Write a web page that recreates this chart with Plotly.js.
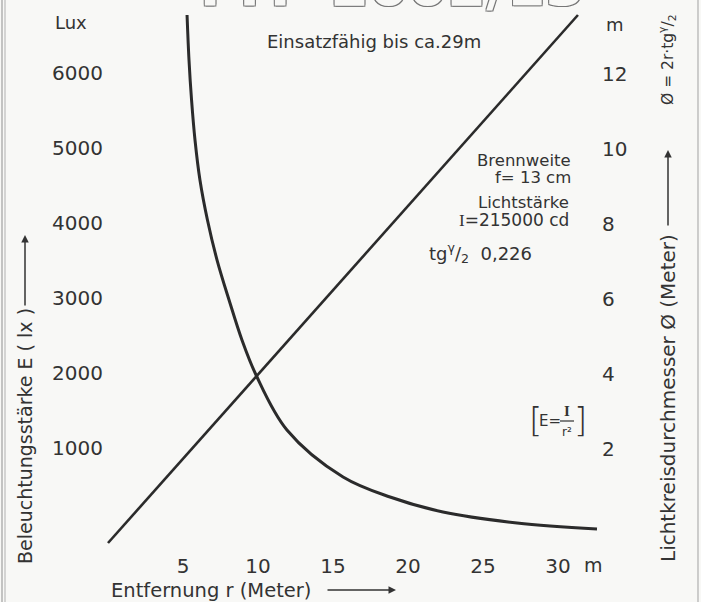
<!DOCTYPE html>
<html>
<head>
<meta charset="utf-8">
<script src="https://cdn.plot.ly/plotly-3.0.1.min.js"></script>
<style>html,body{margin:0;padding:0;background:#f8f8f6;}</style>
</head>
<body>
<div id="chart" style="width:701px;height:602px;"></div>
<script>
// ---- data ----
// Beleuchtungsstärke E (lx) versus Entfernung r (m)
const rCurve = [5.27, 5.4, 5.57, 5.8, 6.13, 6.63, 7.27, 8.07, 8.93, 9.87, 11.93, 15.67, 18.8, 22.33, 27.27, 32.6];
const eCurve = [7040, 6440, 5907, 5373, 4840, 4307, 3773, 3240, 2707, 2240, 1507, 880, 613, 413, 267, 187];
// Lichtkreisdurchmesser (m) versus Entfernung r (m)
const rLine = [0, 31.33];
const dLine = [0, 14.08];
// tick values / labels
const xTicks = [5, 10, 15, 20, 25, 30];
const xLabels = ["5", "10", "15", "20", "25", "30"];
const luxTicks = [1000, 2000, 3000, 4000, 5000, 6000];
const luxLabels = ["1000", "2000", "3000", "4000", "5000", "6000"];
const mTicks = [2, 4, 6, 8, 10, 12];
const mLabels = ["2", "4", "6", "8", "10", "12"];

// ---- layout helpers ----
const W = 701, H = 602, L = 104, R = 100, T = 10, B = 50;
const PW = W - L - R, PH = H - T - B;
const px = p => (p - L) / PW;
const py = p => (H - B - p) / PH;
const FONT = "DejaVu Sans";
const INK = "#333333";

const traces = [
  {x: rCurve, y: eCurve, type: "scatter", mode: "lines", line: {color: "#2b2b2b", width: 3, shape: "spline", smoothing: 1}, hoverinfo: "skip"},
  {x: rLine, y: dLine, type: "scatter", mode: "lines", yaxis: "y2", line: {color: "#2b2b2b", width: 2.6}, hoverinfo: "skip"}
];

function f(size, extra) { return Object.assign({family: FONT, size: size, color: INK}, extra || {}); }
function txt(text, x, y, opts) {
  return Object.assign({text: text, x: px(x), y: py(y), xref: "paper", yref: "paper",
    showarrow: false, font: f(17), xanchor: "center", yanchor: "middle"}, opts || {});
}
function arrow(xHead, yHead, xTail, yTail) {
  return {text: "", x: px(xHead), y: py(yHead), xref: "paper", yref: "paper", showarrow: true,
    ax: xTail - xHead, ay: yTail - yHead, axref: "pixel", ayref: "pixel",
    arrowhead: 2, arrowsize: 1, arrowwidth: 1.5, arrowcolor: INK, standoff: 0, startstandoff: 0};
}

const annotations = [
  txt("TYP 2002/13", 388, -14, {font: f(56, {color: "#f8f8f6", weight: 700,
    shadow: "-1px -1px 0 #777, 1px -1px 0 #777, -1px 1px 0 #777, 1px 1px 0 #777"})}),
  txt("Lux", 71, 22, {font: f(18)}),
  txt("m", 615, 25, {font: f(18)}),
  txt("m", 593, 565, {font: f(19)}),
  txt("Einsatzfähig bis ca.29m", 374, 42, {font: f(18)}),
  txt("Brennweite", 573, 160, {xanchor: "right", font: f(16.5)}),
  txt("f= 13 cm", 573, 177, {xanchor: "right", font: f(16.5)}),
  txt("Lichtstärke", 571, 203, {xanchor: "right", font: f(16.5)}),
  txt("<span style='font-family:Liberation Serif'>I</span>=215000 cd", 571, 220, {xanchor: "right", font: f(17)}),
  txt("tg<sup>γ</sup>/<sub>2</sub>  0,226", 427, 253, {xanchor: "left", font: f(18)}),
  // formula box
  txt("[", 535, 420, {font: f(34, {weight: 300})}),
  txt("]", 580, 420, {font: f(34, {weight: 300})}),
  txt("E=", 550, 421, {font: f(15)}),
  txt("<b>I</b>", 567, 411, {font: {family: "Liberation Serif", size: 15, color: INK}}),
  txt("r²", 567, 432, {font: f(12)}),
  // axis titles
  txt("Entfernung r (Meter)", 109, 590, {xanchor: "left", font: f(19.5)}),
  arrow(396, 590, 326, 590),
  txt("Beleuchtungsstärke E ( lx )", 25, 436, {textangle: -90, font: f(19)}),
  arrow(25, 235, 25, 307),
  txt("Lichtkreisdurchmesser Ø (Meter)", 668, 398, {textangle: -90, font: f(20)}),
  arrow(668, 150, 668, 227),
  txt("Ø = 2r·tg<sup>γ</sup>/<sub>2</sub>", 668, 60, {textangle: -90, font: f(15.5)})
];

const shapes = [
  {type: "line", xref: "paper", yref: "paper", x0: px(2), x1: px(2), y0: py(0), y1: py(602), line: {color: "#a0a0a0", width: 1.2}},
  {type: "line", xref: "paper", yref: "paper", x0: px(5), x1: px(5), y0: py(0), y1: py(602), line: {color: "#b0b0b0", width: 1}},
  {type: "line", xref: "paper", yref: "paper", x0: px(698), x1: px(698), y0: py(0), y1: py(602), line: {color: "#b0b0b0", width: 1.2}},
  {type: "line", xref: "paper", yref: "paper", x0: px(560), x1: px(574), y0: py(421), y1: py(421), line: {color: INK, width: 1.2}}
];

const tickFont = f(20);
const layout = {
  width: W, height: H,
  margin: {l: L, r: R, t: T, b: B, pad: 0},
  paper_bgcolor: "#f8f8f6", plot_bgcolor: "rgba(0,0,0,0)",
  showlegend: false,
  xaxis: {range: [(L - 108) / 15, (W - R - 108) / 15], tickvals: xTicks, ticktext: xLabels,
    showgrid: false, zeroline: false, showline: false, ticks: "", tickfont: tickFont, fixedrange: true},
  yaxis: {range: [(543 - (H - B)) * 1000 / 75, (543 - T) * 1000 / 75], tickvals: luxTicks, ticktext: luxLabels,
    showgrid: false, zeroline: false, showline: false, ticks: "", tickfont: tickFont, ticklabelshift: -20, fixedrange: true},
  yaxis2: {range: [(543 - (H - B)) / 37.5, (543 - T) / 37.5], tickvals: mTicks, ticktext: mLabels, overlaying: "y", side: "right",
    showgrid: false, zeroline: false, showline: false, ticks: "", tickfont: tickFont, ticklabelshift: -19, fixedrange: true},
  annotations: annotations,
  shapes: shapes
};

Plotly.newPlot("chart", traces, layout, {staticPlot: true, displayModeBar: false});
</script>
</body>
</html>
